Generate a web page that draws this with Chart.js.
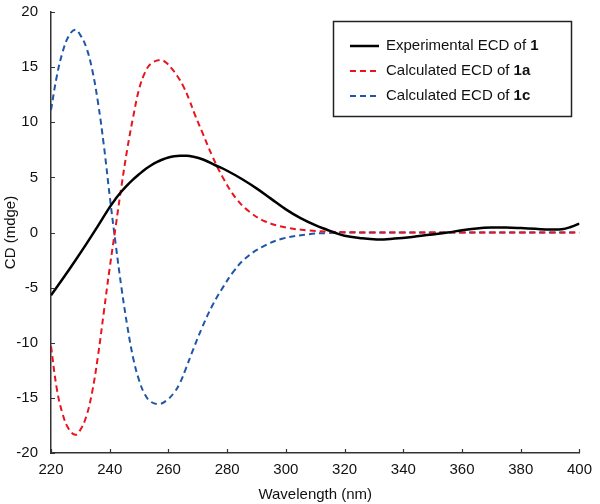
<!DOCTYPE html>
<html>
<head>
<meta charset="utf-8">
<script src="https://cdn.jsdelivr.net/npm/chart.js@4/dist/chart.umd.min.js"></script>
<style>
	html, body { margin: 0; padding: 0; background: #fff; }
	#wrap { width: 600px; height: 504px; }
</style>
</head>
<body>
<div id="wrap"><canvas id="cd-chart" width="600" height="504"></canvas></div>
<script>
// Experimental spectrum of 1
const expWavelength = [220, 224, 228, 232, 236, 240, 242, 244, 246, 248, 250, 252, 254, 256, 258, 260, 262, 264, 266, 268, 272, 276, 280, 285, 290, 295, 300, 305, 310, 314, 316.5, 320, 325, 331, 337, 343, 349, 355, 360, 365, 370, 375, 380, 385, 390, 394, 397, 400];
const expCD = [-5.7, -4.2, -2.65, -1.05, 0.6, 2.3, 3.05, 3.72, 4.3, 4.82, 5.28, 5.72, 6.08, 6.38, 6.62, 6.8, 6.91, 6.96, 6.96, 6.9, 6.6, 6.1, 5.6, 4.85, 4.0, 3.05, 2.1, 1.3, 0.66, 0.25, 0, -0.3, -0.5, -0.63, -0.55, -0.4, -0.2, 0, 0.2, 0.37, 0.45, 0.45, 0.4, 0.33, 0.27, 0.3, 0.5, 0.81];

// Calculated spectrum of 1a
const calc1aWavelength = [220, 222, 224, 226, 228.3, 230, 232, 234, 236, 238, 240, 242, 244, 246, 248, 250, 252, 254, 257.3, 259, 261, 263, 265, 267, 269, 271.5, 275, 278.5, 283, 287.5, 293, 300, 308, 314, 320, 330, 340, 350, 360, 370, 380, 390, 400];
const calc1a = [-10.3, -14.2, -16.5, -17.8, -18.35, -17.9, -16.7, -14.5, -11.2, -7.2, -3.2, 0.5, 4.2, 7.6, 10.5, 13.0, 14.5, 15.3, 15.65, 15.45, 14.9, 14.2, 13.3, 12.1, 10.7, 9.1, 6.9, 5.0, 3.1, 1.9, 1.0, 0.45, 0.18, 0.08, 0.03, 0, 0, 0, 0, 0, 0, 0, 0];

// Calculated spectrum of 1c
const calc1cWavelength = [220, 222, 224, 226, 228.2, 230, 232, 234, 236, 238, 240, 242, 244, 246, 248, 250, 252, 254, 257, 259.5, 262, 264, 266, 268, 271.5, 275, 278.5, 282, 286, 292, 299, 308, 314, 320, 330, 340, 350, 360, 370, 380, 390, 400];
const calc1c = [11.1, 14.2, 16.4, 17.8, 18.4, 17.9, 16.8, 14.8, 11.8, 7.9, 3.3, -1.0, -5.0, -8.5, -11.4, -13.4, -14.7, -15.35, -15.55, -15.2, -14.5, -13.6, -12.3, -10.9, -8.6, -6.6, -5.0, -3.6, -2.4, -1.3, -0.55, -0.15, -0.05, 0, 0, 0, 0, 0, 0, 0, 0, 0];

// Legend text: plain part + bold compound number
const seriesLabels = ["Experimental ECD of ", "Calculated ECD of ", "Calculated ECD of "];
const compoundLabels = ["1", "1a", "1c"];

const FONT = "'Liberation Sans', Arial, sans-serif";
const TEXT_COLOR = "#111";

function toPoints(xs, ys) {
	return xs.map((x, i) => ({ x: x, y: ys[i] }));
}

// Inward tick marks on both axes
const innerTicks = {
	id: "innerTicks",
	afterDraw(chart) {
		const ctx = chart.ctx;
		const xs = chart.scales.x;
		const ys = chart.scales.y;
		const area = chart.chartArea;
		ctx.save();
		ctx.strokeStyle = "#333";
		ctx.lineWidth = 1.2;
		ctx.beginPath();
		xs.ticks.forEach((t) => {
			const px = Math.round(xs.getPixelForValue(t.value)) + 0.5;
			ctx.moveTo(px, area.bottom);
			ctx.lineTo(px, area.bottom - 4);
		});
		ys.ticks.forEach((t) => {
			const py = Math.round(ys.getPixelForValue(t.value)) + 0.5;
			ctx.moveTo(area.left, py);
			ctx.lineTo(area.left + 4, py);
		});
		ctx.stroke();
		ctx.restore();
	},
};

// Boxed legend with bold compound numbers
const boxLegend = {
	id: "boxLegend",
	afterDraw(chart) {
		const ctx = chart.ctx;
		const bx = 333.5, by = 21.5, bw = 238, bh = 95;
		ctx.save();
		ctx.fillStyle = "#fff";
		ctx.fillRect(bx, by, bw, bh);
		ctx.strokeStyle = "#222";
		ctx.lineWidth = 1.5;
		ctx.strokeRect(bx, by, bw, bh);
		chart.data.datasets.forEach((ds, i) => {
			const y = 46 + i * 25;
			ctx.strokeStyle = ds.borderColor;
			ctx.lineWidth = ds.borderWidth;
			ctx.setLineDash(ds.borderDash || []);
			ctx.beginPath();
			ctx.moveTo(350, y);
			ctx.lineTo(379, y);
			ctx.stroke();
			ctx.setLineDash([]);
			ctx.fillStyle = TEXT_COLOR;
			ctx.textBaseline = "middle";
			ctx.textAlign = "left";
			ctx.font = "15px " + FONT;
			ctx.fillText(seriesLabels[i], 386, y);
			const w = ctx.measureText(seriesLabels[i]).width;
			ctx.font = "bold 15px " + FONT;
			ctx.fillText(compoundLabels[i], 386 + w, y);
		});
		ctx.restore();
	},
};

const ctx = document.getElementById("cd-chart").getContext("2d");
new Chart(ctx, {
	type: "line",
	data: {
		datasets: [
			{
				label: seriesLabels[0] + compoundLabels[0],
				data: toPoints(expWavelength, expCD),
				borderColor: "#000",
				borderWidth: 2.5,
			},
			{
				label: seriesLabels[1] + compoundLabels[1],
				data: toPoints(calc1aWavelength, calc1a),
				borderColor: "#e8141e",
				borderWidth: 2,
				borderDash: [6, 4],
			},
			{
				label: seriesLabels[2] + compoundLabels[2],
				data: toPoints(calc1cWavelength, calc1c),
				borderColor: "#1f56a8",
				borderWidth: 2,
				borderDash: [6, 4],
			},
		],
	},
	options: {
		responsive: false,
		animation: false,
		layout: { padding: { top: 12, right: 18, left: 2, bottom: 0 } },
		elements: {
			point: { radius: 0 },
			line: { tension: 0.4, fill: false },
		},
		plugins: {
			legend: { display: false },
			tooltip: { enabled: false },
		},
		scales: {
			x: {
				type: "linear",
				min: 220,
				max: 400,
				ticks: { stepSize: 20, color: TEXT_COLOR, font: { family: FONT, size: 15 }, padding: 8, maxRotation: 0 },
				grid: { drawOnChartArea: false, drawTicks: false },
				border: { color: "#333", width: 1.5 },
				title: { display: true, text: "Wavelength (nm)", color: TEXT_COLOR, font: { family: FONT, size: 15 }, padding: { top: 2, bottom: 0 } },
				afterFit: (s) => { s.height = 51; },
			},
			y: {
				min: -20,
				max: 20,
				ticks: { stepSize: 5, color: TEXT_COLOR, font: { family: FONT, size: 15 }, padding: 13 },
				grid: { drawOnChartArea: false, drawTicks: false },
				border: { color: "#333", width: 1.5 },
				title: { display: true, text: "CD (mdge)", color: TEXT_COLOR, font: { family: FONT, size: 15 }, padding: { top: 0, bottom: 0 } },
				afterFit: (s) => { s.width = 49; s.paddingTop = 0; s.paddingBottom = 0; },
			},
		},
	},
	plugins: [innerTicks, boxLegend],
});
</script>
</body>
</html>
